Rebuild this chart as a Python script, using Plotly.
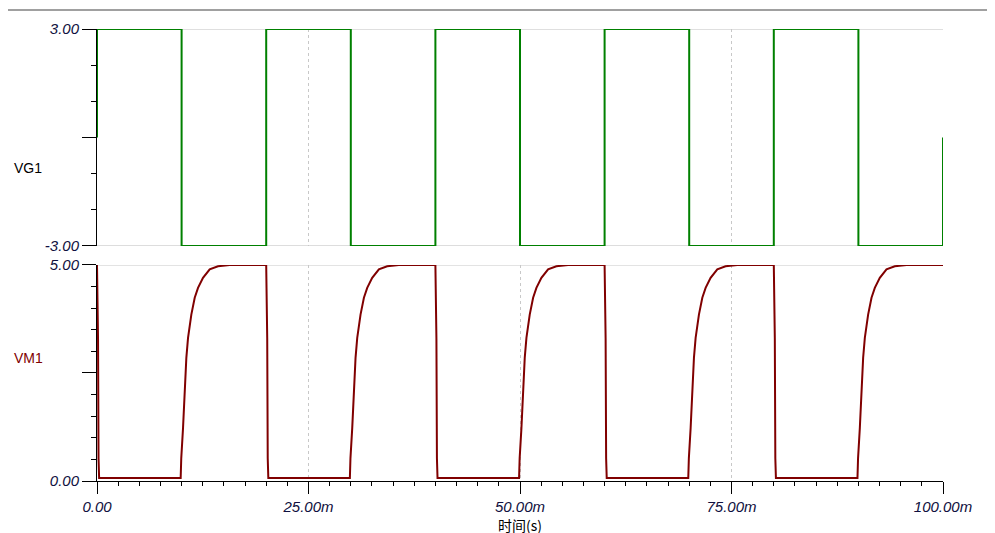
import plotly.graph_objects as go

# VG1 square wave: edge times (ms) and levels (V)
vg_t = [0, 0, 10, 10, 20, 20, 30, 30, 40, 40, 50, 50, 60, 60, 70, 70, 80, 80, 90, 90, 100, 100]
vg_v = [0, 3, 3, -3, -3, 3, 3, -3, -3, 3, 3, -3, -3, 3, 3, -3, -3, 3, 3, -3, -3, 0]

# VM1: rise shape after gate goes low (time offset from falling gate edge, ms; value V)
rise_dt = [-0.11, -0.04, 0.17, 0.37, 0.56, 0.76, 1.15, 1.55, 1.94, 2.53, 3.32, 4.30, 5.68]
rise_v = [0.07, 0.53, 1.23, 2.15, 2.85, 3.31, 3.85, 4.24, 4.47, 4.70, 4.90, 4.97, 5.00]
# fall shape after gate goes high (time offset, ms; value V)
fall_dt = [0.0, 0.05, 0.12, 0.18, 0.25]
fall_v = [5.00, 4.08, 3.30, 0.53, 0.07]
cycle_starts = [0, 20, 40, 60, 80]

vm_t, vm_v = [], []
for c in cycle_starts:
    vm_t += [c + d for d in fall_dt]
    vm_v += fall_v
    vm_t += [c + 10 + d for d in rise_dt]
    vm_v += rise_v
vm_t.append(100)
vm_v.append(5.0)

x_ticks = [0, 25, 50, 75, 100]
x_labels = ["0.00", "25.00m", "50.00m", "75.00m", "100.00m"]

tickfont = dict(family="Liberation Sans", size=15, color="#101040", style="italic")

fig = go.Figure()
fig.add_trace(go.Scatter(x=vg_t, y=vg_v, mode="lines", line=dict(color="#008000", width=2),
                         xaxis="x2", yaxis="y2", hoverinfo="skip"))
fig.add_trace(go.Scatter(x=vm_t, y=vm_v, mode="lines", line=dict(color="#800000", width=2),
                         xaxis="x", yaxis="y", hoverinfo="skip"))

common_x = dict(range=[0, 100], tickvals=x_ticks, showgrid=True, gridcolor="#c8c8c8",
                griddash="dot", gridwidth=1, zeroline=False, automargin=False)
fig.update_layout(
    width=995, height=533, paper_bgcolor="white", plot_bgcolor="white",
    margin=dict(l=89, r=60, t=21, b=60), showlegend=False,
    xaxis=dict(**common_x, ticktext=x_labels, tickfont=tickfont, ticks="outside", ticklen=12,
               tickcolor="black", showline=True, linecolor="black", linewidth=1,
               minor=dict(dtick=2.5, ticks="outside", ticklen=4, tickcolor="black"),
               title=dict(text="时间(s)", font=dict(family="Noto Sans CJK SC", size=14, color="black"),
                          standoff=4)),
    xaxis2=dict(**common_x, anchor="y2", showticklabels=False, ticks=""),
    yaxis=dict(domain=[0, 0.478], range=[0, 5], tickvals=[0, 2.5, 5], ticktext=["0.00", "", "5.00"],
               tickfont=tickfont, ticks="outside", ticklen=14, tickcolor="black", automargin=False,
               showline=True, linecolor="black", showgrid=False, zeroline=False,
               minor=dict(dtick=0.5, ticks="outside", ticklen=5, tickcolor="black", showgrid=False)),
    yaxis2=dict(domain=[0.52, 1], range=[-3, 3], tickvals=[-3, 0, 3], ticktext=["-3.00", "", "3.00"],
                tickfont=tickfont, ticks="outside", ticklen=14, tickcolor="black", anchor="x2",
                automargin=False, showline=True, linecolor="black", showgrid=False, zeroline=False,
                minor=dict(dtick=1, ticks="outside", ticklen=5, tickcolor="black", showgrid=False)),
)
pw, ph = 995 - 89 - 60, 533 - 21 - 60
fig.add_annotation(text="VG1", x=(4 - 89) / pw, y=(473 - 150) / ph, xref="paper", yref="paper",
                   xanchor="left", showarrow=False,
                   font=dict(family="Liberation Sans", size=14, color="black"))
fig.add_annotation(text="VM1", x=(4 - 89) / pw, y=(473 - 360) / ph, xref="paper", yref="paper",
                   xanchor="left", showarrow=False,
                   font=dict(family="Liberation Sans", size=14, color="#800000"))
# gray horizontal limit lines in each panel
for yref, yv in [("y2", 3), ("y2", -3), ("y", 5)]:
    fig.add_shape(type="line", xref="x", yref=yref, x0=0, x1=100, y0=yv, y1=yv,
                  line=dict(color="#c0c0c0", width=1), layer="below")
fig.add_shape(type="line", xref="paper", yref="paper", x0=-89 / pw, x1=(995 - 89) / pw,
              y0=(473 - 2) / ph, y1=(473 - 2) / ph, line=dict(color="#a0a0a0", width=2))
fig.write_html("out.html")
